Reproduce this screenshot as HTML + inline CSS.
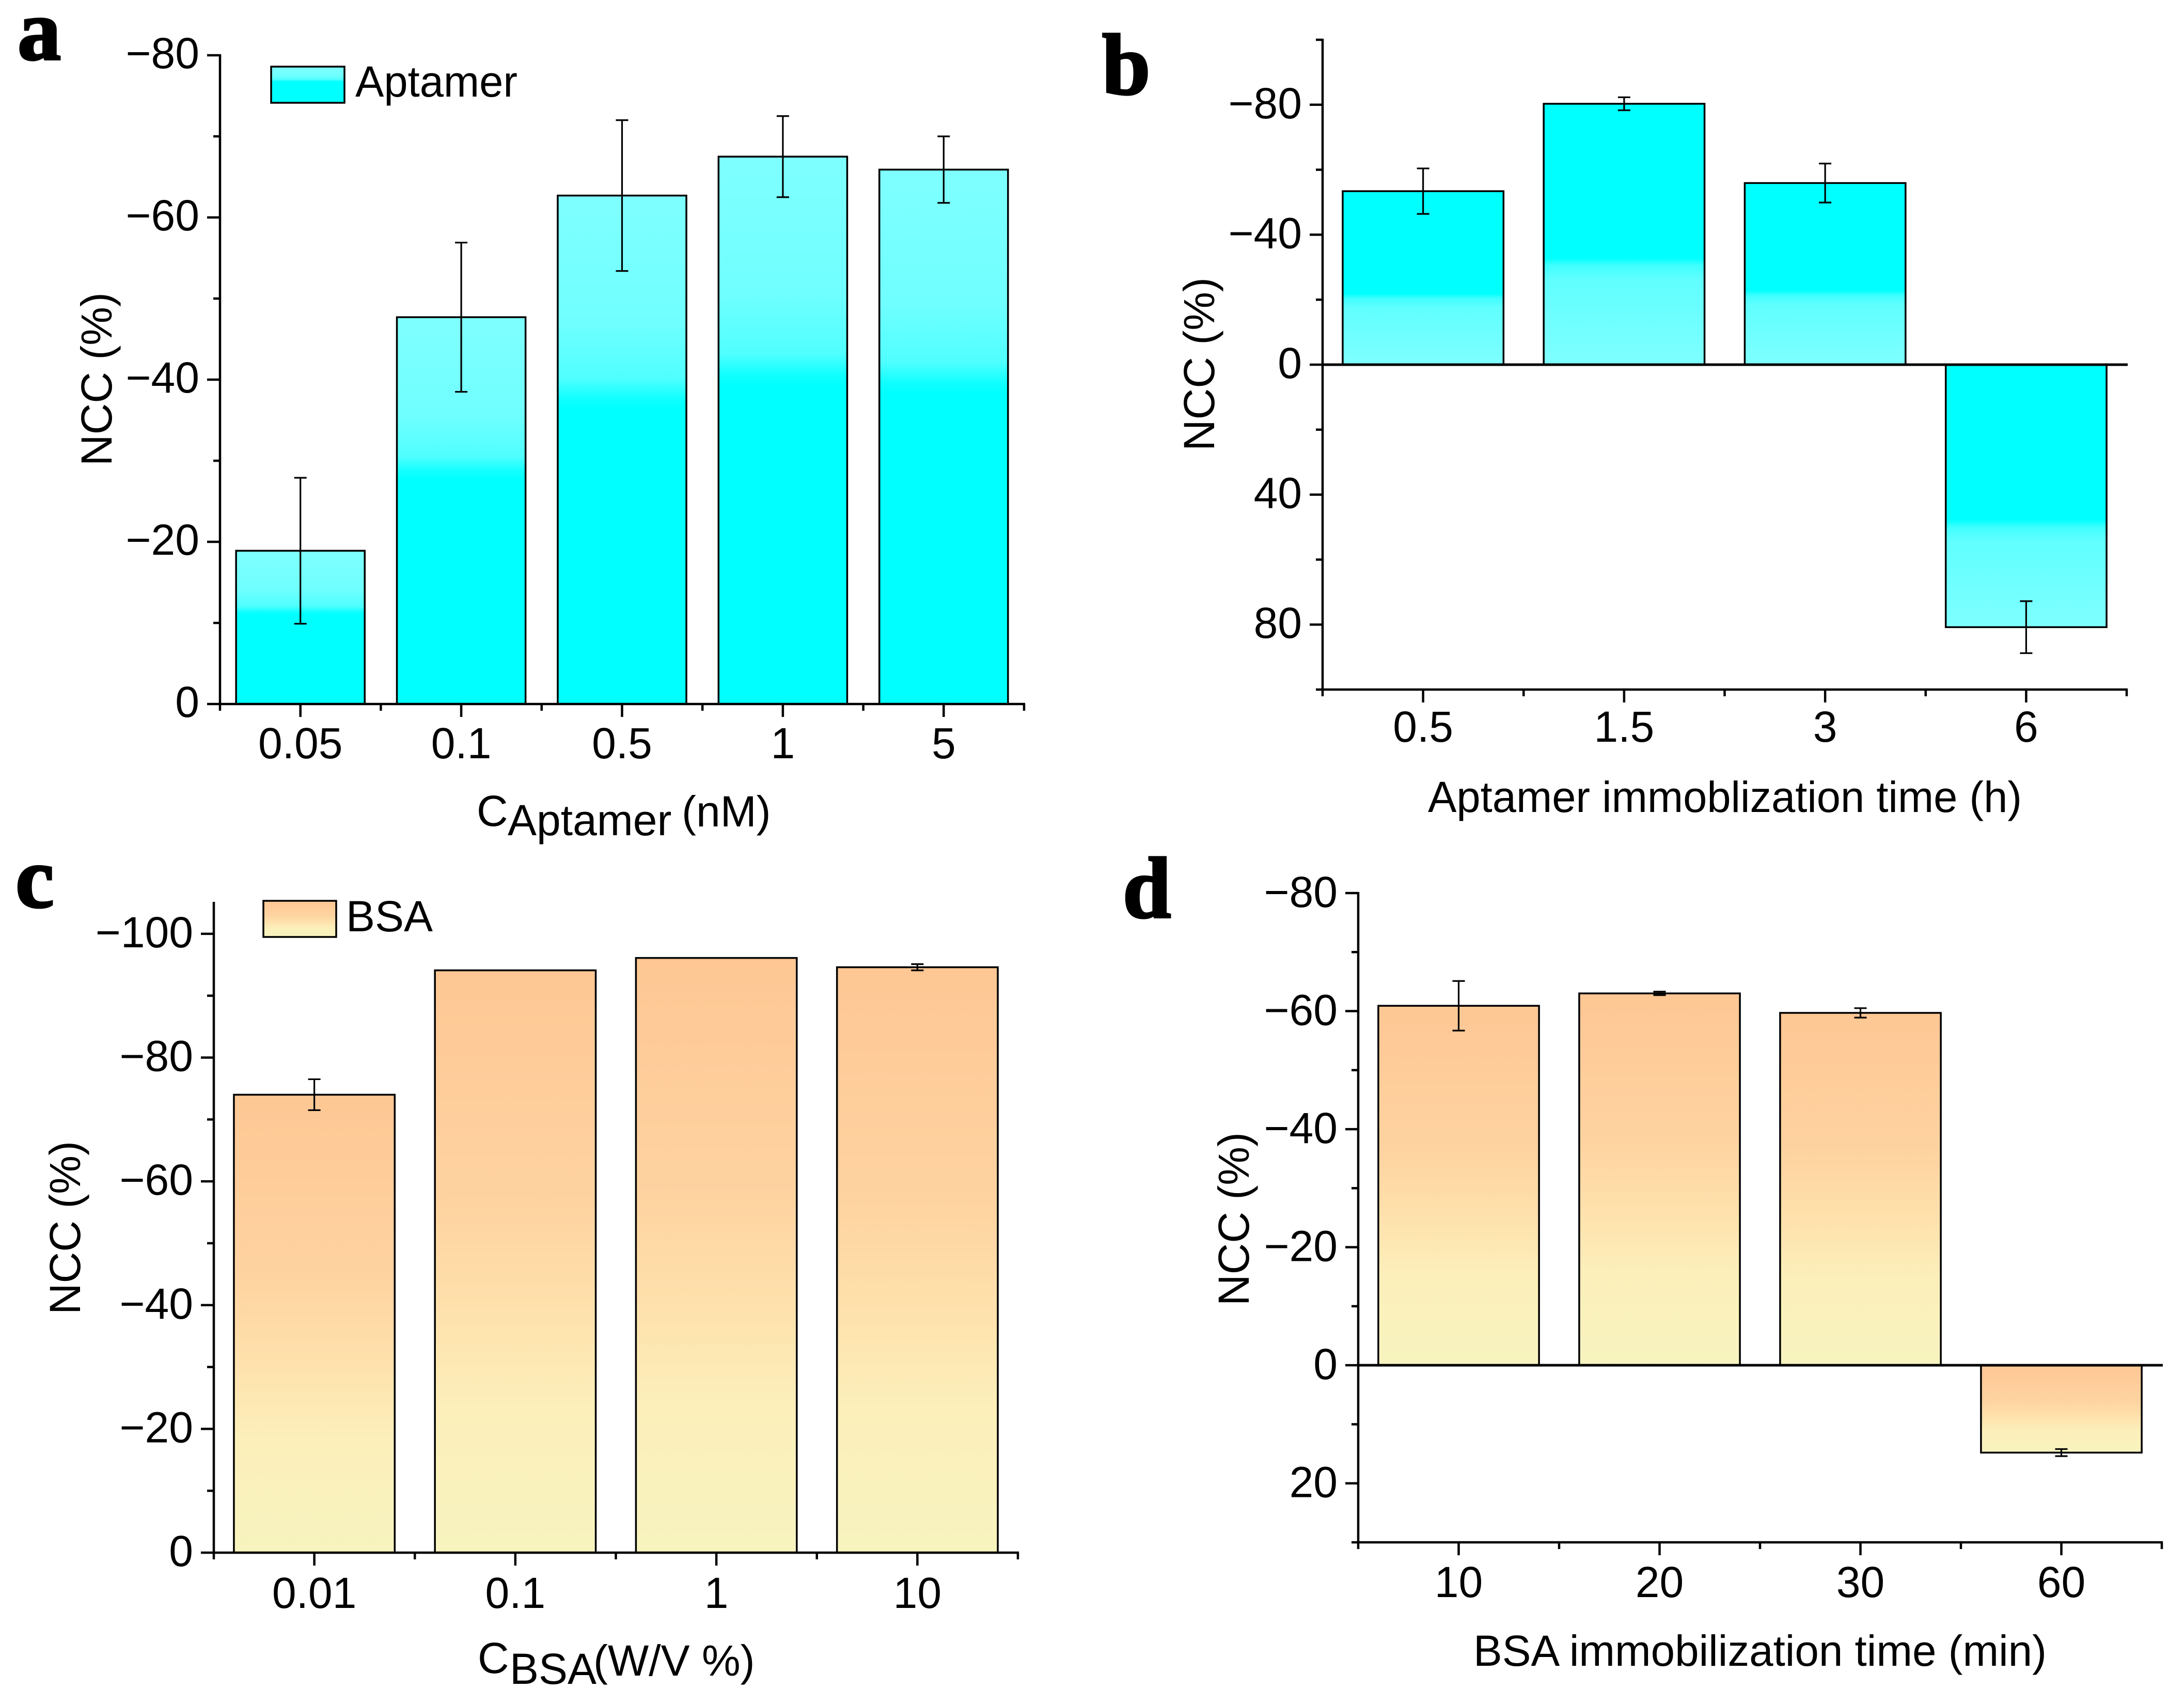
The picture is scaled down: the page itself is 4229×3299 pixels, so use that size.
<!DOCTYPE html>
<html lang="en">
<head>
<meta charset="utf-8">
<title>NCC bar charts</title>
<style>
html,body{margin:0;padding:0;background:#fff;}
svg{display:block;}
text{font-family:"Liberation Sans",Arial,sans-serif;fill:#000;font-size:84px;}
.letter{font-family:"Liberation Serif","Times New Roman",serif;font-weight:bold;font-size:168px;stroke:#000;stroke-width:4px;}
</style>
</head>
<body>
<svg id="figure" xmlns="http://www.w3.org/2000/svg" width="4229" height="3299" viewBox="0 0 4229 3299">
  <defs>
    <linearGradient id="cyanTop" x1="0" y1="0" x2="0" y2="1">
      <stop offset="0" stop-color="#7fffff"/><stop offset="0.25" stop-color="#70ffff"/><stop offset="0.36" stop-color="#50ffff"/><stop offset="0.4" stop-color="#10ffff"/><stop offset="0.42" stop-color="#00ffff"/><stop offset="1" stop-color="#00ffff"/>
    </linearGradient>
    <linearGradient id="cyanBottom" x1="0" y1="0" x2="0" y2="1">
      <stop offset="0" stop-color="#00ffff"/><stop offset="0.59" stop-color="#00ffff"/><stop offset="0.62" stop-color="#40ffff"/><stop offset="0.67" stop-color="#60ffff"/><stop offset="1" stop-color="#7fffff"/>
    </linearGradient>
    <linearGradient id="bsaFill" x1="0" y1="0" x2="0" y2="1">
      <stop offset="0" stop-color="#fec794"/><stop offset="0.4" stop-color="#fed3a0"/><stop offset="0.6" stop-color="#fee2ad"/><stop offset="0.75" stop-color="#fcefba"/><stop offset="1" stop-color="#f7f4bf"/>
    </linearGradient>
  </defs>
  <rect x="0" y="0" width="4229" height="3299" fill="#fff"/>
  <g id="panel-a"></g>
  <g id="panel-b"></g>
  <g id="panel-c"></g>
  <g id="panel-d"></g>

  <text class="letter" x="34" y="115">a</text>
  <text class="letter" x="2134" y="182">b</text>
  <text class="letter" x="30" y="1756">c</text>
  <text class="letter" x="2174" y="1776">d</text>

  <text transform="translate(216 734) rotate(-90)" text-anchor="middle">NCC (%)</text>
  <text transform="translate(2351 705) rotate(-90)" text-anchor="middle">NCC (%)</text>
  <text transform="translate(155 2377) rotate(-90)" text-anchor="middle">NCC (%)</text>
  <text transform="translate(2418 2360) rotate(-90)" text-anchor="middle">NCC (%)</text>

  <text><tspan x="923" y="1599">C</tspan><tspan x="983" y="1617">Aptamer</tspan><tspan x="1320" y="1600">(nM)</tspan></text>
  <text x="3340" y="1572" text-anchor="middle" textLength="1150" lengthAdjust="spacingAndGlyphs">Aptamer immoblization time (h)</text>
  <text><tspan x="925" y="3239">C</tspan><tspan x="987" y="3260">BSA</tspan><tspan x="1149" y="3244">(W/V %)</tspan></text>
  <text x="3408" y="3225" text-anchor="middle" textLength="1110" lengthAdjust="spacingAndGlyphs">BSA immobilization time (min)</text>

  <g>
    <rect x="525" y="129" width="142" height="70" fill="url(#cyanTop)" stroke="#000" stroke-width="3.5"/>
    <text x="688" y="187" textLength="314" lengthAdjust="spacingAndGlyphs">Aptamer</text>
  </g>
  <g>
    <rect x="510" y="1744" width="141" height="70" fill="url(#bsaFill)" stroke="#000" stroke-width="3.5"/>
    <text x="670" y="1803">BSA</text>
  </g>
</svg>

<script>
const panelACategories = ['0.05', '0.1', '0.5', '1', '5'];
const panelAValues = [-18.9, -47.7, -62.7, -67.5, -65.9];
const panelAErrors = [9.0, 9.2, 9.3, 5.0, 4.1];
const panelAMajorTicks = [-80, -60, -40, -20, 0];
const panelAMinorTicks = [-70, -50, -30, -10];

const panelBCategories = ['0.5', '1.5', '3', '6'];
const panelBValues = [-53.4, -80.3, -55.9, 80.8];
const panelBErrors = [7.0, 2.0, 6.0, 8.0];
const panelBMajorTicks = [-80, -40, 0, 40, 80];
const panelBMinorTicks = [-100, -60, -20, 20, 60, 100];

const panelCCategories = ['0.01', '0.1', '1', '10'];
const panelCValues = [-74.0, -94.1, -96.1, -94.6];
const panelCErrors = [2.5, 0, 0, 0.5];
const panelCMajorTicks = [-100, -80, -60, -40, -20, 0];
const panelCMinorTicks = [-90, -70, -50, -30, -10];

const panelDCategories = ['10', '20', '30', '60'];
const panelDValues = [-60.9, -63.0, -59.7, 14.8];
const panelDErrors = [4.2, 0.3, 0.8, 0.6];
const panelDMajorTicks = [-80, -60, -40, -20, 0, 20];
const panelDMinorTicks = [-70, -50, -30, -10, 10, 30];

const SVG_NS = 'http://www.w3.org/2000/svg';

function makeNode(parent, tag, attrs, text) {
  const node = document.createElementNS(SVG_NS, tag);
  Object.keys(attrs).forEach(function (key) { node.setAttribute(key, attrs[key]); });
  if (text !== undefined) node.textContent = text;
  parent.appendChild(node);
  return node;
}

function formatTick(v) {
  return v < 0 ? '\u2212' + Math.abs(v) : String(v);
}

function drawPanel(opts) {
  const root = document.getElementById(opts.id);
  const yScale = function (v) {
    return opts.plotTop + (v - opts.domainMin) / (opts.domainMax - opts.domainMin) * (opts.plotBottom - opts.plotTop);
  };
  const band = (opts.plotRight - opts.plotLeft) / opts.categories.length;
  const xScale = function (i) { return opts.plotLeft + band * (i + 0.5); };
  const barWidth = band * 0.8;
  const zero = yScale(0);

  opts.values.forEach(function (value, i) {
    const cx = xScale(i);
    const bar = makeNode(root, 'rect', {
      x: cx - barWidth / 2,
      y: Math.min(zero, yScale(value)),
      width: barWidth,
      height: Math.abs(yScale(value) - zero),
      fill: 'url(#' + opts.gradient + ')',
      stroke: '#000',
      'stroke-width': 3.5
    });
    
    
  });

  opts.values.forEach(function (value, i) {
    const err = opts.errors[i];
    if (!err) return;
    const cx = xScale(i);
    const hi = yScale(value - err);
    const lo = yScale(value + err);
    const errorGroup = makeNode(root, 'g', { stroke: '#000', 'stroke-width': 3.2, fill: 'none' });
    
    
    makeNode(errorGroup, 'line', { x1: cx, x2: cx, y1: hi, y2: lo });
    makeNode(errorGroup, 'line', { x1: cx - 12, x2: cx + 12, y1: hi, y2: hi });
    makeNode(errorGroup, 'line', { x1: cx - 12, x2: cx + 12, y1: lo, y2: lo });
  });

  const yAxis = makeNode(root, 'g', { stroke: '#000', 'stroke-width': 4.5 });
  
  
  makeNode(yAxis, 'line', { x1: opts.plotLeft, x2: opts.plotLeft, y1: opts.plotTop - 2, y2: opts.plotBottom + 2 });
  opts.majorTicks.forEach(function (t) {
    makeNode(yAxis, 'line', { x1: opts.plotLeft - 25, x2: opts.plotLeft, y1: yScale(t), y2: yScale(t) });
  });
  opts.minorTicks.forEach(function (t) {
    makeNode(yAxis, 'line', { x1: opts.plotLeft - 13, x2: opts.plotLeft, y1: yScale(t), y2: yScale(t) });
  });

  opts.majorTicks.forEach(function (t) {
    const yLabel = makeNode(root, 'text', { x: opts.plotLeft - 40, y: yScale(t) + opts.yLabelOffset, 'text-anchor': 'end' }, formatTick(t));
    
    
  });

  const xAxis = makeNode(root, 'g', { stroke: '#000', 'stroke-width': 4.5 });
  
  
  makeNode(xAxis, 'line', { x1: opts.plotLeft - 2, x2: opts.plotRight + 2, y1: opts.plotBottom, y2: opts.plotBottom });
  if (zero !== opts.plotBottom) {
    const zeroLine = makeNode(root, 'line', { x1: opts.plotLeft, x2: opts.plotRight + 2, y1: zero, y2: zero, stroke: '#000', 'stroke-width': 5 });
    
    
  }
  opts.categories.forEach(function (label, i) {
    const cx = xScale(i);
    makeNode(xAxis, 'line', { x1: cx, x2: cx, y1: opts.plotBottom, y2: opts.plotBottom + 25 });
    const xLabel = makeNode(root, 'text', { x: cx, y: opts.plotBottom + opts.labelOffset, 'text-anchor': 'middle' }, label);
    
    
  });
  for (let i = 0; i <= opts.categories.length; i++) {
    const bx = opts.plotLeft + band * i;
    makeNode(xAxis, 'line', { x1: bx, x2: bx, y1: opts.plotBottom, y2: opts.plotBottom + 13 });
  }
}

drawPanel({
  id: 'panel-a', categories: panelACategories, values: panelAValues, errors: panelAErrors,
  majorTicks: panelAMajorTicks, minorTicks: panelAMinorTicks, domainMin: -80, domainMax: 0,
  plotLeft: 426, plotRight: 1983, plotTop: 107, plotBottom: 1363, labelOffset: 105, yLabelOffset: 25, gradient: 'cyanTop'
});
drawPanel({
  id: 'panel-b', categories: panelBCategories, values: panelBValues, errors: panelBErrors,
  majorTicks: panelBMajorTicks, minorTicks: panelBMinorTicks, domainMin: -100, domainMax: 100,
  plotLeft: 2561, plotRight: 4118, plotTop: 77, plotBottom: 1335, labelOffset: 101, yLabelOffset: 26, gradient: 'cyanBottom'
});
drawPanel({
  id: 'panel-c', categories: panelCCategories, values: panelCValues, errors: panelCErrors,
  majorTicks: panelCMajorTicks, minorTicks: panelCMinorTicks, domainMin: -105, domainMax: 0,
  plotLeft: 414, plotRight: 1971, plotTop: 1748, plotBottom: 3006, labelOffset: 107, yLabelOffset: 26, gradient: 'bsaFill'
});
drawPanel({
  id: 'panel-d', categories: panelDCategories, values: panelDValues, errors: panelDErrors,
  majorTicks: panelDMajorTicks, minorTicks: panelDMinorTicks, domainMin: -80, domainMax: 30,
  plotLeft: 2630, plotRight: 4186, plotTop: 1729, plotBottom: 2986, labelOffset: 106, yLabelOffset: 27, gradient: 'bsaFill'
});
</script>
</body>
</html>
